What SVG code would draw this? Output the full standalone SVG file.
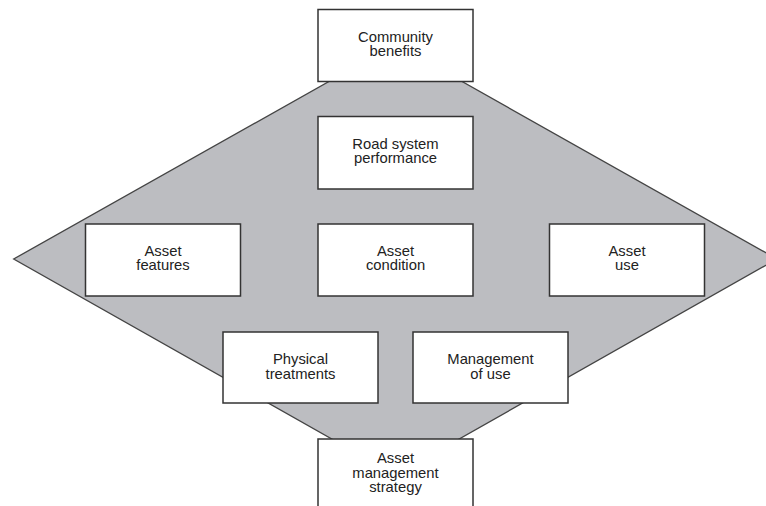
<svg xmlns="http://www.w3.org/2000/svg" width="766" height="506" viewBox="0 0 766 506">
  <style>
    .box { fill: #ffffff; stroke: #333333; stroke-width: 1.5; }
    .lbl { font-family: "Liberation Sans", Arial, Helvetica, sans-serif; font-size: 14.8px; fill: #222222; text-anchor: middle; }
    .zone { fill: #bcbdc1; stroke: #444444; stroke-width: 1.3; stroke-linejoin: miter; }
  </style>
  <rect x="0" y="0" width="766" height="506" fill="#ffffff"/>

  <!-- shaded diamond behind the boxes -->
  <g id="backdrop">
    <polygon class="zone" points="395.5,44 777,259 395.5,475 13.7,259"/>
  </g>

  <!-- no connectors: the boxes sit on the shaded field -->
  <g id="connectors"></g>

  <g id="community-benefits">
    <rect class="box" x="318" y="9.5" width="155" height="72"/>
    <text class="lbl" x="395.5" y="41.5">Community</text>
    <text class="lbl" x="395.5" y="56.2">benefits</text>
  </g>

  <g id="road-system-performance">
    <rect class="box" x="318" y="116.5" width="155" height="72.5"/>
    <text class="lbl" x="395.5" y="148.5">Road system</text>
    <text class="lbl" x="395.5" y="163.2">performance</text>
  </g>

  <g id="asset-features">
    <rect class="box" x="85.5" y="224" width="155" height="72"/>
    <text class="lbl" x="163" y="255.5">Asset</text>
    <text class="lbl" x="163" y="270.2">features</text>
  </g>

  <g id="asset-condition">
    <rect class="box" x="318" y="224" width="155" height="72"/>
    <text class="lbl" x="395.5" y="255.5">Asset</text>
    <text class="lbl" x="395.5" y="270.2">condition</text>
  </g>

  <g id="asset-use">
    <rect class="box" x="549.5" y="224" width="155" height="72"/>
    <text class="lbl" x="627" y="255.5">Asset</text>
    <text class="lbl" x="627" y="270.2">use</text>
  </g>

  <g id="physical-treatments">
    <rect class="box" x="223" y="332" width="155" height="71"/>
    <text class="lbl" x="300.5" y="363.8">Physical</text>
    <text class="lbl" x="300.5" y="378.5">treatments</text>
  </g>

  <g id="management-of-use">
    <rect class="box" x="413" y="332" width="155" height="71"/>
    <text class="lbl" x="490.5" y="363.8">Management</text>
    <text class="lbl" x="490.5" y="378.5">of use</text>
  </g>

  <g id="asset-management-strategy">
    <rect class="box" x="318" y="439" width="155" height="90"/>
    <text class="lbl" x="395.5" y="463">Asset</text>
    <text class="lbl" x="395.5" y="477.7">management</text>
    <text class="lbl" x="395.5" y="492.4">strategy</text>
  </g>
</svg>
